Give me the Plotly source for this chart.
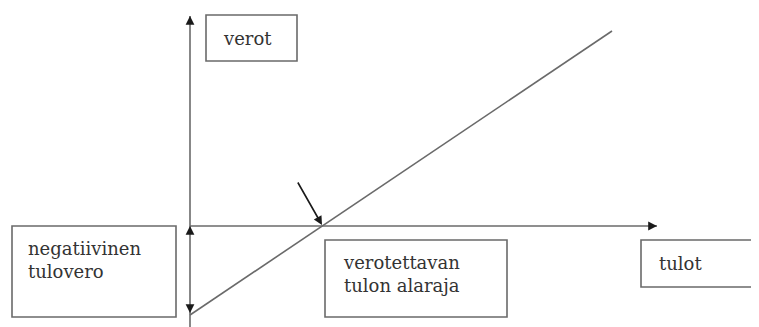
import plotly.graph_objects as go

# diagram values (income on x, tax on y, origin where the axes cross)
income = [0, 422]
tax = [-89, 195]
threshold = 132          # income where tax turns positive
neg_tax_at_zero = -89    # negative income tax at zero income
x_axis_end = 467
y_axis_top = 210
y_axis_bottom = -101

labels = ["verot", "negatiivinen<br>tulovero", "verotettavan<br>tulon alaraja", "tulot"]

GREY = "#6a6a6a"
DARK = "#1a1a1a"
FONT = dict(family="DejaVu Serif", size=18, color="#333333")

fig = go.Figure()

# axes as plain lines
fig.add_trace(go.Scatter(x=[0, 0], y=[y_axis_bottom, y_axis_top], mode="lines",
                         line=dict(color=GREY, width=1.6), hoverinfo="skip"))
fig.add_trace(go.Scatter(x=[0, x_axis_end], y=[0, 0], mode="lines",
                         line=dict(color=GREY, width=1.6), hoverinfo="skip"))
# tax line
fig.add_trace(go.Scatter(x=income, y=tax, mode="lines",
                         line=dict(color=GREY, width=1.6), hoverinfo="skip"))


def head(x, y, ax, ay):
    fig.add_annotation(x=x, y=y, ax=ax, ay=ay, xref="x", yref="y", axref="x", ayref="y",
                       text="", showarrow=True, arrowhead=2, arrowsize=1.1,
                       arrowwidth=1.6, arrowcolor=DARK, standoff=0)


# arrow heads on axes
head(0, y_axis_top, 0, y_axis_top - 8)
head(x_axis_end, 0, x_axis_end - 8, 0)
# double arrow marking the negative tax
head(0, 0, 0, -8)
head(0, neg_tax_at_zero + 2, 0, neg_tax_at_zero + 10)
# pointer to threshold
head(threshold, 1, threshold - 25, 45)

# label boxes (x0, x1, y0, y1, text x, text y); the last one runs off the right edge
boxes = [
    (16, 107, 165, 211, 31, 188, labels[0]),
    (-178, -14, -91, 0, -164, -34, labels[1]),
    (135, 317, -91, -14, 151, -48, labels[2]),
    (451, 620, -61, -14, 467, -37, labels[3]),
]
for i, (x0, x1, y0, y1, tx, ty, txt) in enumerate(boxes):
    if i == len(boxes) - 1:
        fig.add_shape(type="path", path=f"M {x1},{y0} L {x0},{y0} L {x0},{y1} L {x1},{y1}",
                      xref="x", yref="y", line=dict(color=GREY, width=1.6))
    else:
        fig.add_shape(type="rect", x0=x0, x1=x1, y0=y0, y1=y1, xref="x", yref="y",
                      line=dict(color=GREY, width=1.6), fillcolor="white")
    fig.add_annotation(x=tx, y=ty, xref="x", yref="y", text=txt, showarrow=False,
                       xanchor="left", yanchor="middle", align="left", font=FONT)

# page body has an 8px margin, so the figure is 8px smaller and the ranges shifted
fig.update_layout(
    width=751, height=319, margin=dict(l=0, r=0, t=0, b=0),
    paper_bgcolor="white", plot_bgcolor="white", showlegend=False,
    xaxis=dict(range=[-182, 569], visible=False, fixedrange=True),
    yaxis=dict(range=[-101, 218], visible=False, fixedrange=True),
)

fig.write_html("out.html")
